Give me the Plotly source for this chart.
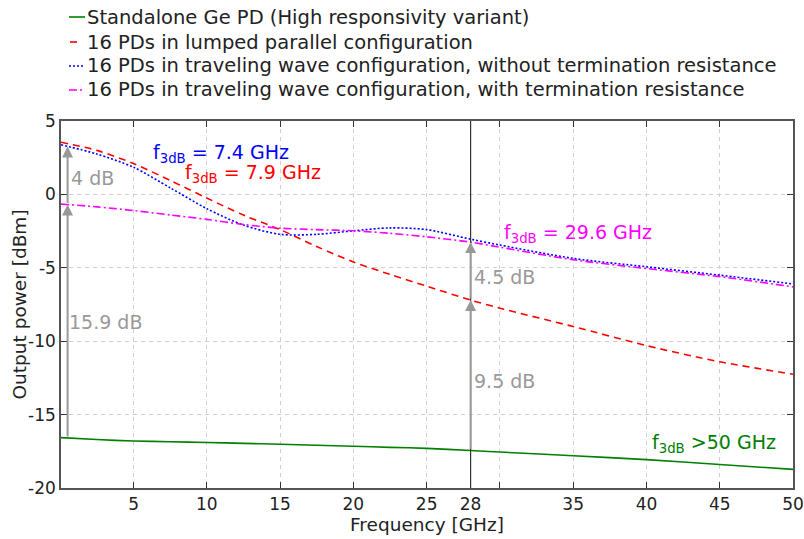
import numpy as np
import plotly.graph_objects as go

freq = [0.05, 2.5, 5, 7.5, 10, 12.5, 15, 17.5, 20, 22.5, 25, 28, 30, 35, 40, 45, 50]

standalone = [-16.57, -16.7, -16.8, -16.85, -16.9, -16.96, -17.02, -17.09, -17.16,
              -17.23, -17.3, -17.45, -17.55, -17.8, -18.07, -18.4, -18.73]
lumped = [3.55, 3.0, 2.1, 0.95, -0.25, -1.41, -2.4, -3.55, -4.6,
          -5.45, -6.25, -7.2, -7.75, -9.0, -10.3, -11.4, -12.25]
tw_no_term = [3.38, 2.75, 1.85, 0.45, -0.97, -2.09, -2.72, -2.72, -2.48,
              -2.28, -2.4, -3.05, -3.45, -4.36, -4.93, -5.5, -6.1]
tw_term = [-0.66, -0.85, -1.1, -1.4, -1.7, -2.05, -2.3, -2.4, -2.48,
           -2.65, -2.89, -3.25, -3.6, -4.45, -5.05, -5.6, -6.3]

series_names = [
    "Standalone Ge PD (High responsivity variant)",
    "16 PDs in lumped parallel configuration",
    "16 PDs in traveling wave configuration, without termination resistance",
    "16 PDs in traveling wave configuration, with termination resistance",
]

x_tickvals = [5, 10, 15, 20, 25, 28, 30, 35, 40, 45, 50]
x_ticktext = ["5", "10", "15", "20", "25", "28", "", "35", "40", "45", "50"]
y_tickvals = [-20, -15, -10, -5, 0, 5]
y_ticktext = ["-20", "-15", "-10", "-5", "0", "5"]

f_marker = 28
f_left = 0.5

FONT = "DejaVu Sans"
GRAY = "#999999"
TEXT = "#222222"

W, H = 804, 539
ML, MR, MT, MB = 61, 11, 121, 51

styles = [
    dict(color="green", width=1.6, dash="solid"),
    dict(color="red", width=1.6, dash="7px,5px"),
    dict(color="blue", width=1.6, dash="2px,2px"),
    dict(color="magenta", width=1.6, dash="8px,3px,2px,3px"),
]

fig = go.Figure()
for name, ys, st in zip(series_names, [standalone, lumped, tw_no_term, tw_term], styles):
    fig.add_trace(
        go.Scatter(
            x=freq, y=ys, mode="lines", name=name, showlegend=False,
            line=dict(shape="spline", smoothing=0.8, **st),
        )
    )

# vertical marker at 28 GHz
fig.add_vline(x=f_marker, line=dict(color="#333333", width=1.2))


def arrow(x, y0, y1):
    fig.add_annotation(
        x=x, y=y1, ax=x, ay=y0, xref="x", yref="y", axref="x", ayref="y",
        text="", showarrow=True, arrowhead=2, arrowsize=1.1, arrowwidth=2,
        arrowcolor=GRAY, standoff=0, startstandoff=0,
    )


i28 = freq.index(f_marker)
arrow(f_marker, standalone[i28], lumped[i28])
arrow(f_marker, lumped[i28], tw_term[i28])
g_l = float(np.interp(f_left, freq, standalone))
m_l = float(np.interp(f_left, freq, tw_term))
b_l = float(np.interp(f_left, freq, tw_no_term))
arrow(f_left, g_l, m_l)
arrow(f_left, m_l, b_l)


def label(x, y, text, color):
    fig.add_annotation(
        x=x, y=y, xref="x", yref="y", text=text, showarrow=False,
        xanchor="left", yanchor="middle", xshift=-2,
        font=dict(family=FONT, size=19, color=color),
    )


label(0.7, 1.1, "4 dB", GRAY)
label(0.6, -8.7, "15.9 dB", GRAY)
label(28.2, -5.6, "4.5 dB", GRAY)
label(28.2, -12.7, "9.5 dB", GRAY)
label(6.3, 2.8, "f<sub>3dB</sub> = 7.4 GHz", "blue")
label(8.5, 1.4, "f<sub>3dB</sub> = 7.9 GHz", "red")
label(30.3, -2.65, "f<sub>3dB</sub> = 29.6 GHz", "magenta")
label(40.4, -16.95, "f<sub>3dB</sub> >50 GHz", "green")

plot_w = W - ML - MR
plot_h = H - MT - MB


def px_x(p):
    return (p - ML) / plot_w


def px_y(p):
    return (H - MB - p) / plot_h


# legend drawn above the axes, short line keys like the original
legend_rows = [17, 42, 66, 90]
key_spans = [(69, 85), (70, 77), (69, 85), (69, 85)]
for name, st, row, (k0, k1) in zip(series_names, styles, legend_rows, key_spans):
    fig.add_shape(
        type="line", xref="paper", yref="paper",
        x0=px_x(k0), x1=px_x(k1), y0=px_y(row), y1=px_y(row), line=st,
    )
    fig.add_annotation(
        x=px_x(85), y=px_y(row), xref="paper", yref="paper", text=name,
        showarrow=False, xanchor="left", yanchor="middle",
        font=dict(family=FONT, size=19.5, color=TEXT),
    )

# y axis title
fig.add_annotation(
    x=px_x(19), y=0.5, xref="paper", yref="paper", text="Output power [dBm]",
    textangle=-90, showarrow=False, xanchor="center", yanchor="middle",
    font=dict(family=FONT, size=18.5, color=TEXT),
)

axis_common = dict(
    showline=True, linecolor="#555555", linewidth=1.5, mirror="allticks",
    ticks="inside", ticklen=6, tickcolor="#333333", tickwidth=1.2,
    showgrid=True, gridcolor="#d0d0d0", griddash="4px,4px", gridwidth=1,
    zeroline=False, automargin=False,
    tickfont=dict(family=FONT, size=17, color=TEXT),
    title_font=dict(family=FONT, size=18.5, color=TEXT),
)

fig.update_xaxes(
    range=[0.05, 50], tickvals=x_tickvals, ticktext=x_ticktext,
    title_text="Frequency [GHz]", title_standoff=4, **axis_common,
)
fig.update_yaxes(
    range=[-20, 5], tickvals=y_tickvals, ticktext=y_ticktext, **axis_common,
)

fig.update_layout(
    width=W, height=H,
    margin=dict(l=ML, r=MR, t=MT, b=MB, autoexpand=False),
    paper_bgcolor="white", plot_bgcolor="white",
    font=dict(family=FONT, color=TEXT),
    showlegend=False,
)

# drop the page's default body margin so the figure fills the window exactly
fig.write_html(
    "out.html",
    config={"displayModeBar": False},
    post_script="document.body.style.margin='0';document.body.style.overflow='hidden';",
)
